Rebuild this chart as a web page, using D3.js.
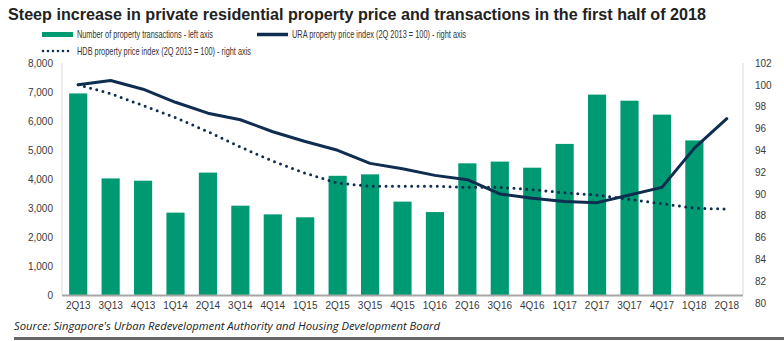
<!DOCTYPE html>
<html>
<head>
<meta charset="utf-8">
<script src="https://cdn.jsdelivr.net/npm/d3@7"></script>
<style>
  body { margin: 0; background: #fff; }
  svg text { font-family: "Liberation Sans", Arial, sans-serif; }
</style>
</head>
<body>
<svg id="chart"></svg>
<script>
// quarters on the x axis
let quarters = ["2Q13","3Q13","4Q13","1Q14","2Q14","3Q14","4Q14","1Q15","2Q15","3Q15","4Q15",
                "1Q16","2Q16","3Q16","4Q16","1Q17","2Q17","3Q17","4Q17","1Q18","2Q18"]
// number of private property transactions (left axis), no figure yet for 2Q18
let transactions = [6950,4020,3940,2840,4220,3080,2780,2680,4110,4160,3220,
                    2860,4540,4600,4390,5210,6910,6700,6220,5330,null]
// URA price index, 2Q 2013 = 100 (right axis)
let uraIndex = [100,100.4,99.6,98.4,97.4,96.8,95.7,94.8,94.0,92.8,92.3,
                91.7,91.3,90.0,89.6,89.3,89.2,89.9,90.6,94.2,96.9]
// HDB price index, 2Q 2013 = 100 (right axis)
let hdbIndex = [100,99.2,98.1,97.0,95.7,94.3,93.0,91.9,91.0,90.7,90.7,
                90.7,90.6,90.6,90.4,90.1,89.9,89.5,89.1,88.7,88.6]
let leftTicks = [0,1000,2000,3000,4000,5000,6000,7000,8000]
let rightTicks = [80,82,84,86,88,90,92,94,96,98,100,102]

let width = 784
let height = 341
let green = "#009a72"
let navy = "#0f2d4f"

let svg = d3.select("#chart").attr("width", width).attr("height", height)

let xScale = d3.scaleBand().domain(quarters).range([62, 743]).paddingInner(0.44).paddingOuter(0.22)
let yLeft = d3.scaleLinear().domain([0, 8000]).range([295, 63])
let yRight = d3.scaleLinear().domain([80, 102]).range([303, 63])

// title
svg.append("text")
    .attr("x", 8).attr("y", 20)
    .attr("textLength", 698).attr("lengthAdjust", "spacingAndGlyphs")
    .style("font-family", "'Liberation Sans Narrow', 'Liberation Sans', Arial, sans-serif")
    .style("font-size", "17px").style("font-weight", "bold").attr("fill", "#222")
    .text("Steep increase in private residential property price and transactions in the first half of 2018")

// legend
let legendFont = "'Liberation Sans Narrow', 'Liberation Sans', Arial, sans-serif"
svg.append("rect").attr("x", 42).attr("y", 32).attr("width", 31).attr("height", 5).attr("fill", green)
svg.append("text").attr("x", 77).attr("y", 38).attr("textLength", 136).attr("lengthAdjust", "spacingAndGlyphs")
    .style("font-family", legendFont).style("font-size", "10.5px").attr("fill", "#333")
    .text("Number of property transactions - left axis")
svg.append("line").attr("x1", 257).attr("x2", 288).attr("y1", 34.5).attr("y2", 34.5)
    .attr("stroke", navy).attr("stroke-width", 3.5)
svg.append("text").attr("x", 292).attr("y", 38).attr("textLength", 174).attr("lengthAdjust", "spacingAndGlyphs")
    .style("font-family", legendFont).style("font-size", "10.5px").attr("fill", "#333")
    .text("URA property price index (2Q 2013 = 100) - right axis")
svg.append("line").attr("x1", 43).attr("x2", 73).attr("y1", 51).attr("y2", 51)
    .attr("stroke", navy).attr("stroke-width", 2.6).attr("stroke-linecap", "round").attr("stroke-dasharray", "0,5")
svg.append("text").attr("x", 77).attr("y", 55).attr("textLength", 174).attr("lengthAdjust", "spacingAndGlyphs")
    .style("font-family", legendFont).style("font-size", "10.5px").attr("fill", "#333")
    .text("HDB property price index (2Q 2013 = 100) - right axis")

// frame lines
svg.append("line").attr("x1", 62).attr("x2", 62).attr("y1", 63).attr("y2", 295).attr("stroke", "#d9d9d9")
svg.append("line").attr("x1", 743).attr("x2", 743).attr("y1", 63).attr("y2", 295).attr("stroke", "#d9d9d9")

// bars
svg.selectAll("rect.bar")
    .data(quarters.map((q, i) => [q, transactions[i]]).filter(d => d[1] != null))
    .enter()
    .append("rect")
    .attr("class", "bar")
    .attr("x", d => xScale(d[0]))
    .attr("width", xScale.bandwidth())
    .attr("y", d => yLeft(d[1]))
    .attr("height", d => yLeft(0) - yLeft(d[1]))
    .attr("fill", green)

// baseline
svg.append("line").attr("x1", 62).attr("x2", 743).attr("y1", 295.5).attr("y2", 295.5)
    .attr("stroke", "#a6a6a6").attr("stroke-width", 2)

let cx = q => xScale(q) + xScale.bandwidth() / 2

let hdbLine = d3.line().x((d, i) => cx(quarters[i])).y(d => yRight(d))
svg.append("path").datum(hdbIndex).attr("d", hdbLine)
    .attr("fill", "none").attr("stroke", navy).attr("stroke-width", 3)
    .attr("stroke-linecap", "round").attr("stroke-dasharray", "0,6.4")

let uraLine = d3.line().x((d, i) => cx(quarters[i])).y(d => yRight(d))
svg.append("path").datum(uraIndex).attr("d", uraLine)
    .attr("fill", "none").attr("stroke", navy).attr("stroke-width", 3)
    .attr("stroke-linejoin", "round").attr("stroke-linecap", "round")

// axes
let leftAxis = svg.append("g").attr("transform", "translate(62,0)")
    .call(d3.axisLeft(yLeft).tickValues(leftTicks).tickFormat(d3.format(",")).tickSize(0).tickPadding(9))
let rightAxis = svg.append("g").attr("transform", "translate(743,0)")
    .call(d3.axisRight(yRight).tickValues(rightTicks).tickSize(0).tickPadding(12))
let bottomAxis = svg.append("g").attr("transform", "translate(0,296)")
    .call(d3.axisBottom(xScale).tickSize(0).tickPadding(6))

;[leftAxis, rightAxis, bottomAxis].forEach(g => {
    g.select(".domain").remove()
    g.selectAll("text").style("font-family", "'Liberation Sans', Arial, sans-serif")
        .style("font-size", "10px").attr("fill", "#3a3a3a")
})

// source note and bottom rule
svg.append("text").attr("x", 14).attr("y", 330).attr("textLength", 426).attr("lengthAdjust", "spacingAndGlyphs")
    .style("font-family", "'Open Sans', 'Liberation Sans', sans-serif").style("font-size", "11px")
    .style("font-style", "italic").attr("fill", "#222")
    .text("Source: Singapore's Urban Redevelopment Authority and Housing Development Board")
svg.append("rect").attr("x", 14).attr("y", 337).attr("width", 770).attr("height", 3).attr("fill", "#666")
</script>
</body>
</html>
